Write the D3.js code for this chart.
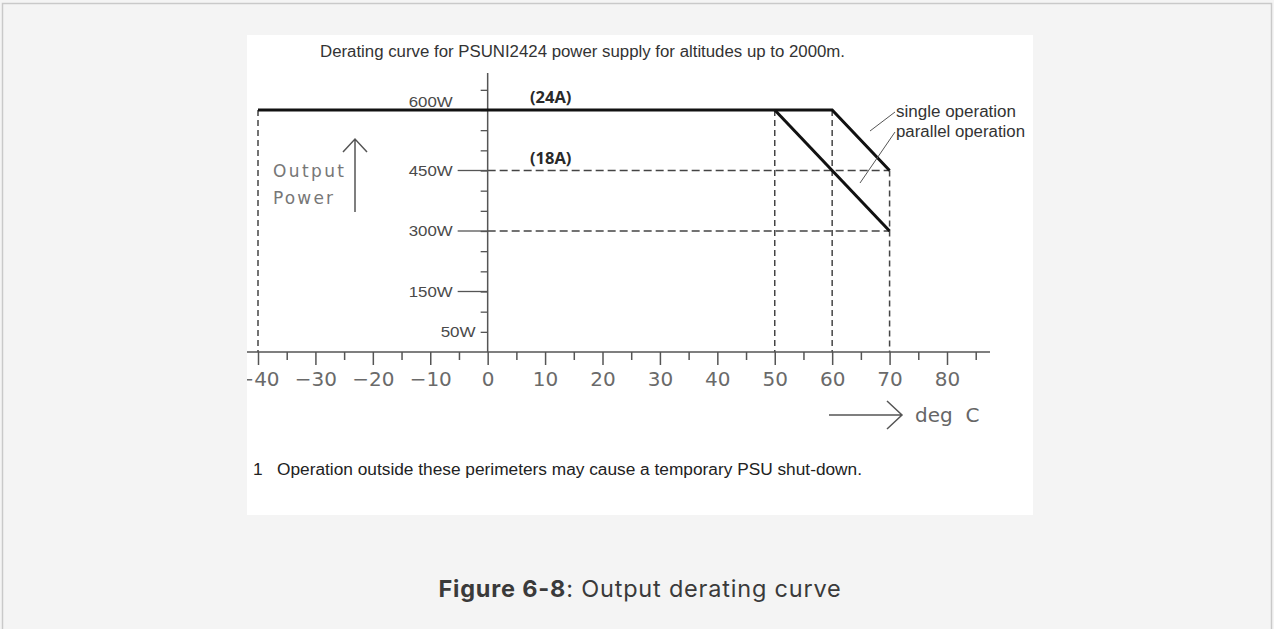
<!DOCTYPE html>
<html>
<head>
<meta charset="utf-8">
<script src="https://cdn.jsdelivr.net/npm/d3@7"></script>
<style>
  body { margin: 0; background: #f4f4f4; }
  svg { display: block; }
</style>
</head>
<body>
<div id="chart"></div>
<script>
var W = 1274, H = 629;

// data
var majorTicks = [-40, -30, -20, -10, 0, 10, 20, 30, 40, 50, 60, 70, 80];
var minorTicks = [-35, -25, -15, -5, 5, 15, 25, 35, 45, 55, 65, 75, 85];
var powerTicks = [50, 100, 150, 200, 250, 300, 350, 400, 450, 500, 550, 600, 650];
var powerLabels = [600, 450, 300, 150, 50];
var longTicks = [450, 300, 150];
var singleTemp = [-40, 60, 70];
var singlePower = [600, 600, 450];
var parallelTemp = [50, 70];
var parallelPower = [600, 300];
var guideTemp = [-40, 50, 60, 70];
var guideTop = [600, 600, 600, 450];
var guidePower = [450, 300];
var currentLabels = ["(24A)", "(18A)"];
var currentPower = [600, 450];

var x = d3.scaleLinear().domain([-40, 80]).range([258, 947]);
var y = d3.scaleLinear().domain([0, 600]).range([352, 110]);

var svg = d3.select("#chart").append("svg")
    .attr("width", W)
    .attr("height", H);

// page frame
svg.append("path")
   .attr("d", "M2.5," + (H + 2) + "V3.5H1271.5V" + (H + 2))
   .attr("fill", "none")
   .attr("stroke", "#c9c9c9")
   .attr("stroke-width", 1.5);

// white picture area
svg.append("defs").append("clipPath").attr("id", "pic")
   .append("rect").attr("x", 247).attr("y", 35).attr("width", 786).attr("height", 480);
svg.append("rect")
   .attr("x", 247).attr("y", 35).attr("width", 786).attr("height", 480)
   .attr("fill", "#fff");

var g = svg.append("g").attr("clip-path", "url(#pic)");

// title
g.append("text")
   .attr("x", 320).attr("y", 57)
   .attr("font-family", "Liberation Sans, Arial, sans-serif")
   .attr("font-size", 16)
   .attr("textLength", 525)
   .attr("lengthAdjust", "spacingAndGlyphs")
   .attr("fill", "#333")
   .text("Derating curve for PSUNI2424 power supply for altitudes up to 2000m.");

// dashed guides
g.selectAll("line.vguide")
   .data(guideTemp)
   .enter()
   .append("line")
   .attr("class", "vguide")
   .attr("x1", function(d) { return x(d); })
   .attr("x2", function(d) { return x(d); })
   .attr("y1", function(d, i) { return y(guideTop[i]); })
   .attr("y2", y(0))
   .attr("stroke", "#444")
   .attr("stroke-width", 1.5)
   .attr("stroke-dasharray", "6,4");

g.selectAll("line.hguide")
   .data(guidePower)
   .enter()
   .append("line")
   .attr("class", "hguide")
   .attr("x1", x(0))
   .attr("x2", x(70))
   .attr("y1", function(d) { return y(d); })
   .attr("y2", function(d) { return y(d); })
   .attr("stroke", "#444")
   .attr("stroke-width", 1.3)
   .attr("stroke-dasharray", "8,4");

// x axis
var xAxis = d3.axisBottom(x)
   .tickValues(majorTicks)
   .tickSize(13)
   .tickPadding(7)
   .tickFormat(d3.format("d"));

var xg = g.append("g")
   .attr("transform", "translate(0," + y(0) + ")")
   .call(xAxis);
xg.select(".domain").remove();
xg.selectAll(".tick line").attr("stroke", "#555").attr("stroke-width", 1.5);
xg.selectAll(".tick text")
   .attr("font-family", "DejaVu Sans, sans-serif")
   .attr("font-size", 20)
   .attr("fill", "#6a6a6a");

var xMinor = d3.axisBottom(x).tickValues(minorTicks).tickSize(8).tickFormat("");
var xm = g.append("g")
   .attr("transform", "translate(0," + y(0) + ")")
   .call(xMinor);
xm.select(".domain").remove();
xm.selectAll(".tick line").attr("stroke", "#555").attr("stroke-width", 1.5);

g.append("line")
   .attr("x1", 247).attr("x2", 990)
   .attr("y1", y(0)).attr("y2", y(0))
   .attr("stroke", "#555").attr("stroke-width", 1.5);

// y axis
var yAxis = d3.axisLeft(y)
   .tickValues(powerTicks)
   .tickSize(7)
   .tickFormat("");
var yg = g.append("g")
   .attr("transform", "translate(" + x(0) + ",0)")
   .call(yAxis);
yg.select(".domain").remove();
yg.selectAll(".tick line").attr("stroke", "#555").attr("stroke-width", 1.3);

g.append("line")
   .attr("x1", x(0)).attr("x2", x(0))
   .attr("y1", 73).attr("y2", y(0))
   .attr("stroke", "#555").attr("stroke-width", 1.5);

// long ticks for labelled values
g.selectAll("line.ltick")
   .data(longTicks)
   .enter()
   .append("line")
   .attr("class", "ltick")
   .attr("x1", x(0) - 30).attr("x2", x(0))
   .attr("y1", function(d) { return y(d); })
   .attr("y2", function(d) { return y(d); })
   .attr("stroke", "#555").attr("stroke-width", 1.3);

g.selectAll("text.plabel")
   .data(powerLabels)
   .enter()
   .append("text")
   .attr("class", "plabel")
   .attr("x", function(d) { return d == 50 ? x(0) - 12 : x(0) - 35; })
   .attr("y", function(d) { return d == 600 ? y(d) - 3 : y(d) + 5; })
   .attr("text-anchor", "end")
   .attr("font-family", "Liberation Sans, Arial, sans-serif")
   .attr("font-size", 15.5)
   .attr("textLength", function(d) { return d == 50 ? 35 : 44; })
   .attr("lengthAdjust", "spacingAndGlyphs")
   .attr("fill", "#4a4a4a")
   .text(function(d) { return d + "W"; });

// curves
var line = d3.line()
   .x(function(d) { return x(d[0]); })
   .y(function(d) { return y(d[1]); });

g.append("path")
   .datum(d3.zip(singleTemp, singlePower))
   .attr("d", line)
   .attr("fill", "none")
   .attr("stroke", "#111")
   .attr("stroke-width", 3);

g.append("path")
   .datum(d3.zip(parallelTemp, parallelPower))
   .attr("d", line)
   .attr("fill", "none")
   .attr("stroke", "#111")
   .attr("stroke-width", 3);

// current labels
g.selectAll("text.amp")
   .data(currentLabels)
   .enter()
   .append("text")
   .attr("class", "amp")
   .attr("x", 530)
   .attr("y", function(d, i) { return y(currentPower[i]) - 7; })
   .attr("font-family", "Open Sans, sans-serif")
   .attr("font-weight", 700)
   .attr("font-size", 16.5)
   .attr("fill", "#2a2a2a")
   .text(function(d) { return d; });

// legend
g.append("text")
   .attr("x", 896).attr("y", 117)
   .attr("font-family", "Liberation Sans, Arial, sans-serif")
   .attr("font-size", 16)
   .attr("textLength", 120)
   .attr("lengthAdjust", "spacingAndGlyphs")
   .attr("fill", "#333")
   .text("single operation");
g.append("text")
   .attr("x", 896).attr("y", 137)
   .attr("font-family", "Liberation Sans, Arial, sans-serif")
   .attr("font-size", 16)
   .attr("textLength", 129)
   .attr("lengthAdjust", "spacingAndGlyphs")
   .attr("fill", "#333")
   .text("parallel operation");
g.append("line")
   .attr("x1", 895).attr("y1", 112).attr("x2", 870).attr("y2", 131)
   .attr("stroke", "#555").attr("stroke-width", 1);
g.append("line")
   .attr("x1", 895).attr("y1", 132).attr("x2", 860).attr("y2", 183)
   .attr("stroke", "#555").attr("stroke-width", 1);

// axis names with arrows
g.append("text")
   .attr("x", 273).attr("y", 177)
   .attr("font-family", "DejaVu Sans, sans-serif")
   .attr("font-size", 17)
   .attr("textLength", 71)
   .attr("fill", "#777")
   .text("Output");
g.append("text")
   .attr("x", 273).attr("y", 204)
   .attr("font-family", "DejaVu Sans, sans-serif")
   .attr("font-size", 17)
   .attr("textLength", 60)
   .attr("fill", "#777")
   .text("Power");
g.append("path")
   .attr("d", "M355,212V139M343,152L355,139L367,152")
   .attr("fill", "none").attr("stroke", "#555").attr("stroke-width", 1.5);

g.append("path")
   .attr("d", "M829,415H902M887,401L902,415L887,429")
   .attr("fill", "none").attr("stroke", "#555").attr("stroke-width", 1.5);
g.append("text")
   .attr("x", 915).attr("y", 422)
   .attr("font-family", "DejaVu Sans, sans-serif")
   .attr("font-size", 20)
   .attr("fill", "#666")
   .attr("xml:space", "preserve")
   .text("deg  C");

// footnote
g.append("text")
   .attr("x", 253).attr("y", 475)
   .attr("font-family", "Liberation Sans, Arial, sans-serif")
   .attr("font-size", 16)
   .attr("textLength", 609)
   .attr("lengthAdjust", "spacingAndGlyphs")
   .attr("fill", "#222")
   .attr("xml:space", "preserve")
   .text("1   Operation outside these perimeters may cause a temporary PSU shut-down.");

// caption
var cap = svg.append("text")
   .attr("x", 640).attr("y", 597)
   .attr("text-anchor", "middle")
   .attr("font-family", "Inter, sans-serif")
   .attr("font-size", 23.5)
   .attr("letter-spacing", 0.8)
   .attr("fill", "#3a3a3a");
cap.append("tspan").attr("font-weight", 700).text("Figure 6-8");
cap.append("tspan").text(": Output derating curve");
</script>
</body>
</html>
